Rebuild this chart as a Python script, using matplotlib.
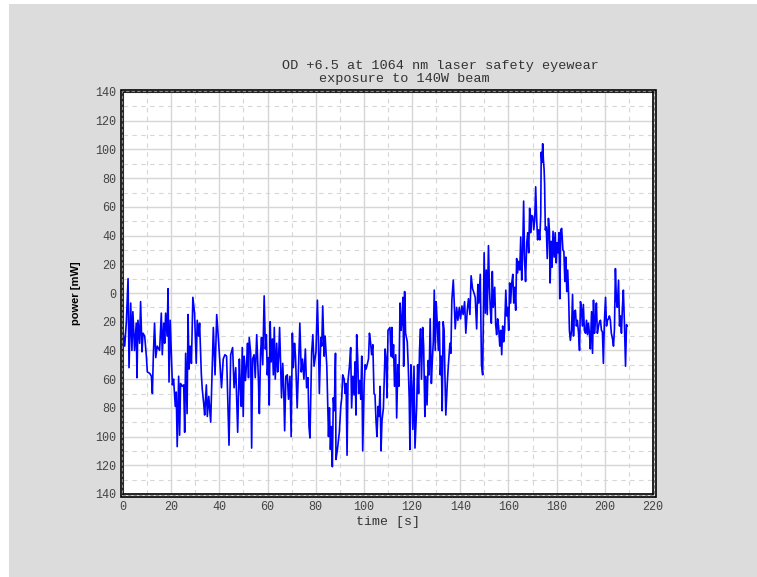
import matplotlib
matplotlib.use("Agg")
import matplotlib.pyplot as plt
from matplotlib.patches import Rectangle
from matplotlib.ticker import MultipleLocator, FixedLocator

# points (time [s], power [mW])
time_s = [
    0, 0.7, 1.4, 2.1, 2.5, 3.2, 3.7, 4.1, 4.8, 5.5, 5.8, 6.2, 6.9, 7.3, 7.9, 8.3, 9, 9.7, 10.1, 11.1,
    11.8, 12.2, 12.6, 13.1, 13.6, 14.2, 15.2, 15.9, 16.3, 16.9, 17.3, 17.7, 18.3, 18.7, 19.1, 19.6, 20, 20.5, 21, 21.7,
    22.1, 22.5, 23.1, 23.5, 23.9, 24.6, 25.2, 25.6, 26, 26.6, 27, 27.4, 27.9, 28.4, 29, 29.7, 30.4, 30.8, 31.4, 31.8,
    32.5, 32.9, 33.5, 33.9, 34.6, 35, 35.6, 36.4,
    37.5, 38.2, 38.9, 39.6, 40.9, 41.6, 42.3, 43, 44, 44.7, 45.5, 46.1, 46.8, 47.6, 48.3, 48.7, 49.1, 49.5, 49.9, 50.3,
    50.8, 51.3, 51.7, 52.1, 52.4, 53, 53.4, 53.8, 54.4, 54.9, 55.5, 56.2, 56.6, 57.1, 57.5, 58, 58.6, 59.1, 59.5, 59.9,
    60.3, 60.7, 61.1, 61.5, 62, 62.4, 62.8, 63.2, 63.8, 64.2, 64.6, 65, 65.4, 65.8, 66.3, 66.7, 67.1, 67.6, 68.2, 68.7,
    69.3, 69.8, 70.3, 70.7, 71.2, 71.6, 72.3, 72.9, 73.4, 74, 74.5, 75.1, 75.7, 76.2, 76.8, 77.2,
    77.6, 78.3, 78.8, 79.3, 79.7, 80.1, 80.7, 81.1, 81.5, 82.1, 82.5, 82.9, 83.5, 83.9, 84.6, 85.3, 85.7, 86.1, 86.5, 86.9,
    87.3, 87.7, 88.2, 88.4, 89, 89.8, 90.4, 90.8, 91.2, 91.8, 92.2, 92.6, 93, 93.4, 94, 94.5, 94.9, 95.4, 95.9, 96.3,
    96.7, 97, 97.4, 97.8, 98.3, 98.7, 99.1, 99.5, 100.1, 100.5, 100.9, 101.2, 101.9, 102.3, 102.8, 103.2, 103.7, 104.2, 104.6, 105,
    105.4, 105.9, 106.3, 106.7, 107.1, 107.5, 108.1, 108.8, 109.2, 109.6, 110,
    110.8, 111.2, 111.6, 111.9, 112.3, 112.7, 113.2, 113.6, 114.1, 114.5, 115, 115.4, 115.8, 116.2, 116.5, 116.9, 117.3, 118, 118.4, 118.8,
    119.1, 119.5, 119.9, 120.3, 120.8, 121.2, 121.9, 122.3, 122.7, 123.1, 123.5, 123.9, 124.4, 124.8, 125.3, 125.7, 126.2, 126.7, 127.1, 127.5,
    128, 128.4, 128.8, 129.2, 129.6, 130, 130.4, 130.9, 131.3, 131.7, 132.1, 132.5, 132.9, 133.3, 133.6, 134, 134.6, 135.1, 135.7, 136.1,
    136.5, 137.1, 137.5, 137.9, 138.5, 139, 139.6, 140.1, 140.7, 141.2, 141.8, 142.3, 142.9, 143.4, 144, 144.5, 145.1, 145.7, 146.2, 146.8,
    147.3, 147.7, 148.3,
    148.8, 149.3, 149.9, 150.4, 150.8, 151.2, 151.7, 152.1, 152.5, 152.9, 153.3, 153.7, 154.3, 154.7, 155.1, 155.5, 155.9, 156.4, 156.8, 157.2,
    157.6, 158, 158.4, 158.9, 159.3, 159.7, 160.1, 160.5, 160.9, 161.3, 161.8, 162.2, 162.6, 163, 163.4, 163.8, 164.2, 164.7, 165.1, 165.5,
    165.9, 166.3, 166.7, 167.1, 167.6, 168, 168.4, 168.8, 169.2, 169.6, 170.1, 170.5, 170.9, 171.3, 171.7, 172.1, 172.5, 173, 173.4, 173.6,
    173.9, 174.2, 174.5, 174.8, 175, 175.3, 175.7, 176.1, 176.6, 177,
    177.3, 177.7, 178.1, 178.5, 179, 179.4, 179.8, 180.2, 180.6, 181, 181.3, 181.7, 182.1, 182.6, 183, 183.4, 183.8, 184.2, 184.6, 185,
    185.3, 185.7, 186.2, 186.6, 187, 187.4, 187.8, 188.2, 188.6, 189.1, 189.5, 189.9, 190.3, 190.7, 191.1, 191.5, 192, 192.4, 192.8, 193.2,
    193.6, 194, 194.5, 194.9, 195.3, 195.7, 196.1, 196.5, 196.9, 197.4, 197.8, 198.2, 198.6, 199, 199.4, 199.8, 200.3, 200.7, 201.1, 201.5,
    201.9, 202.3, 202.7, 203.2, 203.6, 204, 204.4, 204.8, 205.2, 205.7, 206.1, 206.5, 206.9, 207.3, 207.7, 208.1, 208.6, 209, 209.2,
]
power_mw = [
    -27, -37, -20, 10, -52, -7, -40, -13, -40, -21, -59, -19, -35, -6, -41, -28, -30, -44, -55, -56,
    -58, -70, -43, -21, -45, -37, -40, -14, -43, -21, -35, -14, -30, 3, -62, -19, -40, -64, -60, -79,
    -69, -107, -58, -99, -63, -65, -64, -97, -42, -84, -15, -53, -37, -49, -3, -14, -49, -19, -30, -21,
    -56, -67, -77, -85, -64, -86, -72, -90,
    -24, -57, -15, -32, -66, -46, -43, -44, -106, -43, -38, -66, -52, -97, -46, -65, -79, -38, -86, -44,
    -61, -49, -35, -59, -31, -42, -108, -46, -43, -59, -29, -60, -84, -42, -31, -50, -2, -39, -29, -57,
    -45, -78, -20, -48, -32, -57, -24, -60, -35, -55, -45, -24, -49, -73, -49, -66, -96, -58, -57, -74,
    -58, -100, -28, -52, -35, -44, -80, -50, -21, -55, -46, -60, -39, -66, -59, -93,
    -101, -42, -29, -51, -46, -41, -5, -31, -70, -31, -37, -9, -44, -30, -51, -100, -80, -109, -93, -121,
    -73, -82, -42, -116, -109, -97, -79, -73, -57, -60, -70, -63, -113, -61, -51, -38, -80, -58, -71, -48,
    -85, -29, -44, -70, -61, -74, -44, -110, -63, -50, -53, -51, -46, -28, -35, -43, -36, -70, -71, -88,
    -100, -79, -86, -65, -110, -89, -80, -39, -46, -73, -26,
    -24, -44, -24, -45, -36, -65, -43, -87, -50, -65, -7, -26, -19, -3, -51, 1, -28, -34, -51, -73,
    -109, -50, -65, -95, -51, -108, -79, -50, -70, -39, -25, -60, -24, -37, -86, -58, -78, -47, -57, -18,
    -63, -47, -34, 2, -40, -6, -20, -40, -20, -57, -44, -82, -20, -26, -55, -85, -63, -49, -35, -42,
    -5, 9, -7, -25, -10, -19, -10, -18, -9, -15, -6, -28, -12, -4, -15, 12, 3, 0, -3, -25,
    6, -7, 13,
    -50, -57, 28, -14, 16, -15, 33, 4, -12, -21, 15, -10, 4, -22, -29, -18, -23, -37, -26, -43,
    -23, -34, -26, 2, -16, -10, -26, 7, -7, 6, 13, -7, 4, -12, 24, 14, 22, 16, 39, 9,
    28, 64, 23, 8, 35, 42, 28, 59, 42, 54, 53, 44, 51, 74, 52, 37, 44, 37, 54, 98,
    91, 104, 93, 86, 76, 44, 46, 24, 52, 44,
    7, 36, 18, 43, 25, 42, 21, 35, 28, 42, -4, 44, 45, 30, 29, 8, 25, 1, 16, -4,
    -26, -33, -26, -1, -30, -13, -12, -23, -19, -28, -40, -6, -11, -23, -8, -26, -28, -19, -29, -21,
    -28, -39, -13, -42, -5, -28, -19, -7, -28, -23, -20, -19, -26, -27, -49, -21, -3, -23, -19, -18,
    -16, -19, -28, -32, -37, -25, 17, -5, -10, 9, -23, -16, -28, -10, 2, -19, -51, -22, -23,
]

x_ticks = list(range(0, 221, 20))
y_ticks = list(range(-140, 141, 20))
y_tick_labels = [str(abs(v)) for v in y_ticks]  # the chart shows magnitudes only

mono = "Liberation Mono"

fig = plt.figure(figsize=(7.57, 5.77), dpi=100, facecolor="white")
fig.patches.append(Rectangle((9 / 757, 0), 748 / 757, 573 / 577, transform=fig.transFigure,
                             facecolor="#dcdcdc", edgecolor="none", zorder=-10))

ax = fig.add_axes([123 / 757, 83 / 577, 530 / 757, 402 / 577])
ax.set_facecolor("white")
ax.plot(time_s, power_mw, color="#0000ff", linewidth=1.2, zorder=3)

ax.set_xlim(0, 220)
ax.set_ylim(-140, 140)
ax.xaxis.set_major_locator(FixedLocator(x_ticks))
ax.xaxis.set_minor_locator(MultipleLocator(10))
ax.yaxis.set_major_locator(FixedLocator(y_ticks))
ax.yaxis.set_minor_locator(MultipleLocator(10))
ax.set_yticklabels(y_tick_labels)

ax.grid(which="major", color="#d6d6d6", linewidth=1.0, linestyle="-")
ax.grid(which="minor", color="#d6d6d6", linewidth=0.8, linestyle=(0, (4, 4)))
ax.set_axisbelow(True)

ax.tick_params(which="both", length=0, pad=5, labelsize=8.5, labelcolor="#444444")
for lab in ax.get_xticklabels() + ax.get_yticklabels():
    lab.set_family(mono)

for s in ax.spines.values():
    s.set_color("black")
    s.set_linewidth(1.2)

# the double frame round the plot area
frame = Rectangle((-2.5 / 530, -2.5 / 402), 1 + 5 / 530, 1 + 5 / 402, transform=ax.transAxes,
                  fill=False, edgecolor="black", linewidth=1.2, clip_on=False, zorder=5)
ax.add_patch(frame)
frame2 = Rectangle((-1.3 / 530, -1.3 / 402), 1 + 2.6 / 530, 1 + 2.6 / 402, transform=ax.transAxes,
                   fill=False, edgecolor="#888888", linewidth=0.8, linestyle=(0, (3, 2)),
                   clip_on=False, zorder=5)
ax.add_patch(frame2)

ax.set_xlabel("time [s]", family=mono, fontsize=9.5, color="#333333", labelpad=2)
fig.text(76 / 757, 1 - 293 / 577, "power [mW]", rotation=90, ha="center", va="center",
         family="Liberation Sans", fontweight="bold", fontsize=8, color="black")

fig.text(440 / 757, 1 - 66 / 577, "OD +6.5 at 1064 nm laser safety eyewear",
         ha="center", va="center", family=mono, fontsize=9.7, color="#333333")
fig.text(404 / 757, 1 - 79 / 577, "exposure to 140W beam",
         ha="center", va="center", family=mono, fontsize=9.7, color="#333333")

fig.savefig("out.png", dpi=100, facecolor=fig.get_facecolor())
